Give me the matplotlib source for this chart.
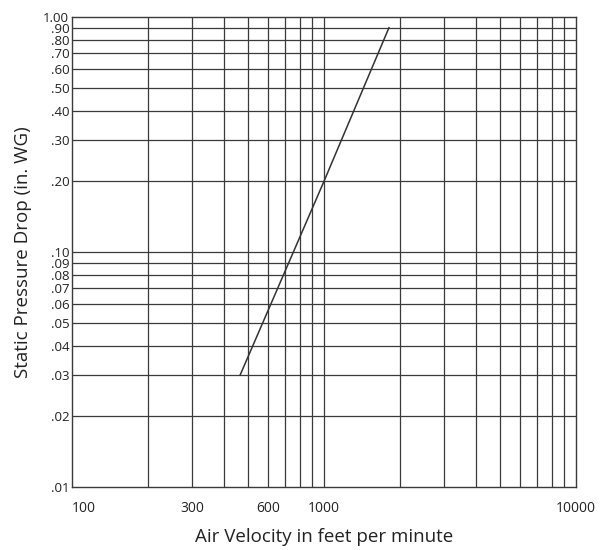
import matplotlib
matplotlib.use("Agg")
import matplotlib.pyplot as plt
from matplotlib.ticker import FixedLocator, NullLocator

plt.rcParams['font.family'] = ['Open Sans', 'DejaVu Sans']

velocity = [465, 1000, 1810]        # feet per minute
pressure = [0.03, 0.20, 0.90]       # in. WG

x_grid = [200, 300, 400, 500, 600, 700, 800, 900, 1000,
          2000, 3000, 4000, 5000, 6000, 7000, 8000, 9000]
x_ticks = [100, 300, 600, 1000, 10000]
x_ticklabels = ['100', '300', '600', '1000', '10000']

y_ticks = [0.01, 0.02, 0.03, 0.04, 0.05, 0.06, 0.07, 0.08, 0.09, 0.10,
           0.20, 0.30, 0.40, 0.50, 0.60, 0.70, 0.80, 0.90, 1.00]
y_ticklabels = ['.01', '.02', '.03', '.04', '.05', '.06', '.07', '.08', '.09', '.10',
                '.20', '.30', '.40', '.50', '.60', '.70', '.80', '.90', '1.00']

fig = plt.figure(figsize=(6.11, 5.5), dpi=100)
ax = fig.add_axes([72 / 611, 1 - 487 / 550, 504 / 611, 470 / 550])

ax.set_xscale('log')
ax.set_yscale('log')
ax.set_xlim(100, 10000)
ax.set_ylim(0.01, 1.0)

gc = '#3a3a3a'
for v in x_grid:
    ax.axvline(v, color=gc, lw=0.9, zorder=1)
for v in y_ticks[1:-1]:
    ax.axhline(v, color=gc, lw=0.9, zorder=1)

ax.plot(velocity, pressure, color='#333333', lw=1.1, zorder=3)

ax.xaxis.set_major_locator(FixedLocator(x_ticks))
ax.xaxis.set_minor_locator(NullLocator())
ax.set_xticklabels(x_ticklabels)
ax.yaxis.set_major_locator(FixedLocator(y_ticks))
ax.yaxis.set_minor_locator(NullLocator())
ax.set_yticklabels(y_ticklabels)

ax.tick_params(axis='x', length=0, labelsize=10, colors='#222222', pad=10)
ax.tick_params(axis='y', length=0, labelsize=9.5, colors='#222222', pad=2)
ax.get_xticklabels()[0].set_horizontalalignment('left')

for s in ax.spines.values():
    s.set_color(gc)
    s.set_linewidth(1.0)

ax.set_xlabel('Air Velocity in feet per minute', fontsize=13.5, color='#222222', labelpad=9)
ax.set_ylabel('Static Pressure Drop (in. WG)', fontsize=13.5, color='#222222', labelpad=8)

fig.savefig('out.png', dpi=100)
